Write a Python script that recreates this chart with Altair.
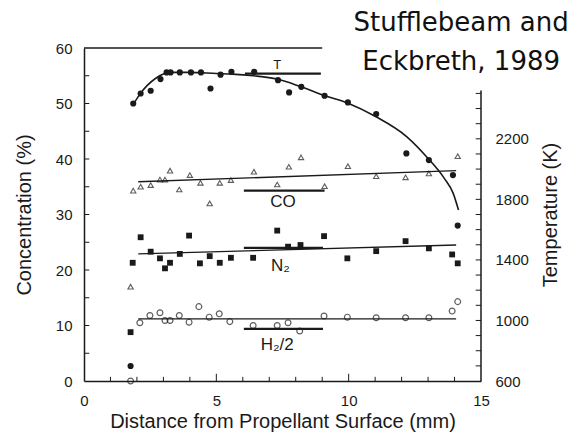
import altair as alt
import pandas as pd

# ---- data ----
T_x = [1.76, 1.86, 2.14, 2.52, 2.89, 3.12, 3.27, 3.62, 4.04, 4.42, 4.78, 5.16, 5.57, 6.43, 7.33, 7.75, 8.21, 9.09, 9.97, 11.04, 12.18, 13.03, 13.94, 14.12]
T_y = [2.7, 50.0, 51.8, 52.3, 54.4, 55.6, 55.6, 55.6, 55.6, 55.6, 52.7, 55.2, 55.7, 55.7, 54.2, 52.0, 53.0, 51.4, 50.2, 48.1, 41.0, 39.8, 37.1, 28.0]

T_curve_x = [1.86, 2.1, 2.4, 2.7, 3.0, 3.3, 4.0, 5.0, 5.6, 6.4, 7.3, 8.2, 9.1, 10.0, 11.0, 12.2, 13.0, 13.6, 13.95, 14.15]
T_curve_y = [49.8, 51.6, 53.3, 54.5, 55.3, 55.6, 55.6, 55.4, 55.3, 55.0, 54.4, 53.0, 51.4, 50.0, 47.7, 44.0, 40.1, 36.6, 33.8, 30.8]

CO_x = [1.76, 1.86, 2.14, 2.52, 2.87, 3.06, 3.25, 3.60, 4.00, 4.40, 4.75, 5.13, 5.55, 6.42, 7.30, 7.74, 8.20, 9.09, 9.97, 11.04, 12.15, 13.03, 14.12]
CO_y = [17.0, 34.3, 35.0, 35.3, 36.3, 36.3, 37.9, 34.5, 37.1, 35.7, 32.0, 35.7, 36.2, 37.7, 35.4, 38.6, 40.3, 35.1, 38.7, 36.9, 36.7, 37.4, 40.5]

N2_x = [1.76, 1.84, 2.14, 2.52, 2.87, 3.06, 3.25, 3.62, 3.97, 4.38, 4.75, 5.13, 5.55, 6.39, 7.30, 7.71, 8.18, 9.07, 9.95, 11.04, 12.15, 13.03, 13.91, 14.12]
N2_y = [8.8, 21.3, 25.9, 23.3, 22.1, 20.3, 21.3, 22.9, 26.2, 21.2, 22.5, 21.3, 22.2, 22.2, 27.1, 24.2, 24.5, 26.1, 22.1, 23.4, 25.2, 23.9, 22.8, 21.2]

H2_x = [1.76, 2.11, 2.49, 2.87, 3.06, 3.25, 3.60, 3.97, 4.34, 4.73, 5.11, 5.51, 6.39, 7.30, 7.71, 8.15, 9.07, 9.95, 11.04, 12.15, 13.03, 13.91, 14.12]
H2_y = [0.0, 10.5, 11.8, 12.3, 10.9, 10.9, 11.8, 10.6, 13.4, 11.5, 12.1, 10.7, 10.0, 10.0, 10.5, 9.0, 11.7, 11.5, 11.4, 11.4, 11.4, 12.6, 14.3]

# straight fits (endpoints)
fit_series = ["CO", "CO", "N2", "N2", "H2", "H2"]
fit_x = [2.05, 14.06, 2.05, 14.06, 2.05, 14.06]
fit_y = [35.9, 37.9, 22.9, 24.5, 11.2, 11.2]

# label segments
seg_x1 = [6.08, 6.04, 6.04, 6.04]
seg_x2 = [8.95, 9.09, 9.03, 9.03]
seg_y = [55.4, 34.3, 24.0, 9.4]

lab_text = ["T", "CO", "N\u2082", "H\u2082/2"]
lab_x = [7.3, 7.52, 7.42, 7.3]
lab_y = [56.9, 32.3, 20.7, 6.5]
lab_size = [13, 17, 17, 17]

title_lines = ["Stufflebeam and", "Eckbreth, 1989"]
title_x = [14.25, 14.25]
title_y = [63.0, 56.1]

x_ticks_minor = [1, 2, 3, 4, 6, 7, 8, 9, 11, 12, 13, 14]
x_ticks_major = [5, 10]
y_ticks = [5, 10, 15, 20, 25, 30, 35, 40, 45, 50, 55]
temp_ticks = list(range(700, 2600, 100))
temp_axis_top = 2520

x_labels = [0, 5, 10, 15]
y_labels = [0, 10, 20, 30, 40, 50, 60]
temp_labels = [600, 1000, 1400, 1800, 2200]

INK = "#1a1a1a"
FONT = "Liberation Sans"

xscale = alt.Scale(domain=[0, 15], nice=False, zero=False)
yscale = alt.Scale(domain=[0, 60], nice=False, zero=False)
tscale = alt.Scale(domain=[600, 2800], nice=False, zero=False)

xaxis = alt.Axis(values=x_labels, tickSize=0, labelPadding=12, domainColor=INK, domainWidth=1.5,
                 labelFontSize=15, labelColor=INK, labelFont=FONT, title="Distance from Propellant Surface (mm)",
                 titleFontSize=20, titleFontWeight="normal", titleColor=INK, titleFont=FONT, titlePadding=3,
                 grid=False, labelFlush=False)
yaxis = alt.Axis(values=y_labels, tickSize=0, labelPadding=12, domainColor=INK, domainWidth=1.5,
                 labelFontSize=15, labelColor=INK, labelFont=FONT, title="Concentration (%)",
                 titleFontSize=20, titleFontWeight="normal", titleColor=INK, titleFont=FONT, titlePadding=21,
                 grid=False, labelFlush=False, orient="left")
taxis = alt.Axis(values=temp_labels, tickSize=0, labelPadding=14, domain=False, format="d",
                 labelFontSize=15, labelColor=INK, labelFont=FONT, title="Temperature (K)",
                 titleFontSize=20, titleFontWeight="normal", titleColor=INK, titleFont=FONT, titlePadding=12,
                 titleAngle=270, titleBaseline="top",
                 grid=False, labelFlush=False, orient="right")


def X(f):
    return alt.X(f, type="quantitative", scale=xscale, axis=xaxis)


def Y(f):
    return alt.Y(f, type="quantitative", scale=yscale, axis=yaxis)


T_df = pd.DataFrame({"x": T_x, "y": T_y})
Tc_df = pd.DataFrame({"x": T_curve_x, "y": T_curve_y})
CO_df = pd.DataFrame({"x": CO_x, "y": CO_y})
N2_df = pd.DataFrame({"x": N2_x, "y": N2_y})
H2_df = pd.DataFrame({"x": H2_x, "y": H2_y})
fit_df = pd.DataFrame({"s": fit_series, "x": fit_x, "y": fit_y})
seg_df = pd.DataFrame({"x": seg_x1, "x2": seg_x2, "y": seg_y})
lab_df = pd.DataFrame({"t": lab_text, "x": lab_x, "y": lab_y, "fs": lab_size})
title_df = pd.DataFrame({"t": title_lines, "x": title_x, "y": title_y})
top_df = pd.DataFrame({"x": [0], "x2": [9], "y": [60]})
xt_df = pd.DataFrame({"x": x_ticks_minor + x_ticks_major,
                      "len": [0.75] * len(x_ticks_minor) + [1.3] * len(x_ticks_major)})
yt_df = pd.DataFrame({"y": y_ticks})
tt_df = pd.DataFrame({"t": temp_ticks})
tax_df = pd.DataFrame({"x": [15], "t0": [600], "t1": [temp_axis_top]})

t_pts = alt.Chart(T_df).mark_circle(size=38, color=INK, opacity=1).encode(x=X("x"), y=Y("y"))
t_line = alt.Chart(Tc_df).mark_line(color=INK, strokeWidth=1.6, interpolate="monotone").encode(x=X("x"), y=Y("y"))
co_pts = alt.Chart(CO_df).mark_point(shape="triangle-up", size=28, filled=False, color=INK, strokeWidth=1.1).encode(x=X("x"), y=Y("y"))
n2_pts = alt.Chart(N2_df).mark_square(size=34, color=INK, opacity=1).encode(x=X("x"), y=Y("y"))
h2_pts = alt.Chart(H2_df).mark_point(shape="circle", size=34, filled=False, color=INK, strokeWidth=1.2).encode(x=X("x"), y=Y("y"))
fits = alt.Chart(fit_df).mark_line(color=INK, strokeWidth=1.4).encode(x=X("x"), y=Y("y"), detail="s:N")
segs = alt.Chart(seg_df).mark_rule(color=INK, strokeWidth=2.2).encode(x=X("x"), x2="x2", y=Y("y"))
top = alt.Chart(top_df).mark_rule(color=INK, strokeWidth=1.6).encode(x=X("x"), x2="x2", y=Y("y"))
labs = alt.Chart(lab_df).mark_text(font=FONT, color=INK, baseline="middle", align="center").encode(
    x=X("x"), y=Y("y"), text="t:N", size=alt.Size("fs:Q", scale=None, legend=None))
ttl = alt.Chart(title_df).mark_text(font="DejaVu Sans", fontSize=26, color="#111", baseline="alphabetic",
                                    align="center").encode(x=X("x"), y=Y("y"), text="t:N")
xt = alt.Chart(xt_df).transform_calculate(y0="0").mark_rule(color=INK, strokeWidth=1).encode(
    x=X("x"), y=Y("y0:Q"), y2="len:Q")
yt = alt.Chart(yt_df).transform_calculate(x0="0", x1="0.2").mark_rule(color=INK, strokeWidth=1).encode(
    x=X("x0:Q"), x2="x1:Q", y=Y("y"))

main = alt.layer(t_line, fits, segs, top, t_pts, co_pts, n2_pts, h2_pts, labs, ttl, xt, yt)

tax = alt.Chart(tax_df).mark_rule(color=INK, strokeWidth=1.5).encode(
    x=X("x"), y=alt.Y("t0:Q", scale=tscale, axis=taxis), y2="t1:Q")
tt = alt.Chart(tt_df).transform_calculate(xa="15", xb="14.8").mark_rule(color=INK, strokeWidth=1).encode(
    x=X("xa:Q"), x2="xb:Q", y=alt.Y("t:Q", scale=tscale, axis=taxis))
temp = alt.layer(tax, tt)

chart = alt.layer(main, temp).resolve_scale(y="independent").properties(
    width=397, height=333,
    autosize=alt.AutoSizeParams(type="none"),
    padding={"left": 76, "top": 40, "right": 94, "bottom": 56},
    background="white",
).configure_view(strokeWidth=0)

chart.save("out.html", embed_options={"renderer": "svg", "actions": False})
